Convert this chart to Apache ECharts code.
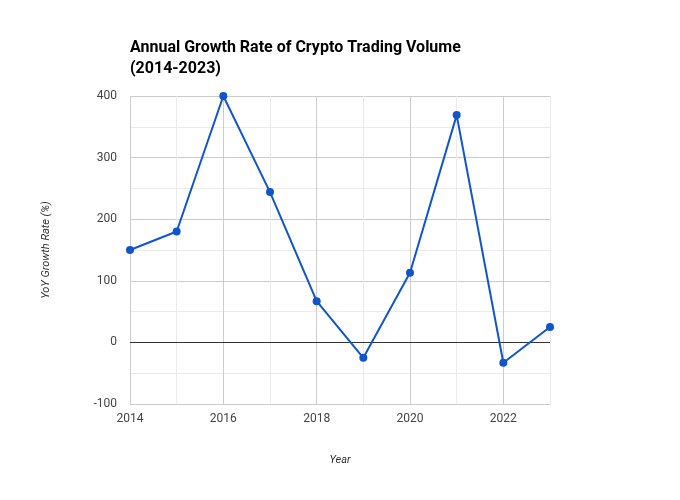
<!DOCTYPE html>
<html>
<head>
<meta charset="utf-8">
<script src="https://cdn.jsdelivr.net/npm/echarts@6/dist/echarts.min.js"></script>
<style>
  html, body { margin: 0; padding: 0; background: #fff; }
  #chart { width: 680px; height: 500px; }
</style>
</head>
<body>
<div id="chart"></div>
<script>
// data
var years = ['2014', '2015', '2016', '2017', '2018', '2019', '2020', '2021', '2022', '2023'];
var growthRate = [150, 180, 400, 244, 67, -25, 113, 369, -33, 25];

var chart = echarts.init(document.getElementById('chart'));

var option = {
  backgroundColor: '#ffffff',
  textStyle: { fontFamily: 'Roboto' },
  title: {
    text: 'Annual Growth Rate of Crypto Trading Volume\n(2014-2023)',
    left: 125,
    top: 32,
    textStyle: {
      fontFamily: 'Roboto',
      fontSize: 16,
      fontWeight: 'bold',
      color: '#000',
      lineHeight: 21
    }
  },
  grid: { left: 130, right: 130, top: 96, bottom: 96 },
  xAxis: {
    type: 'category',
    data: years,
    boundaryGap: false,
    name: 'Year',
    nameLocation: 'middle',
    nameGap: 51,
    nameTextStyle: { fontStyle: 'italic', fontSize: 11, color: '#333' },
    axisLine: { show: false },
    axisTick: { show: false },
    axisLabel: { interval: 1, color: '#444', fontSize: 12, margin: 9 },
    splitLine: {
      show: true,
      interval: 0,
      lineStyle: { color: ['#cccccc', '#ebebeb'], width: 1 }
    }
  },
  yAxis: {
    type: 'value',
    min: -100,
    max: 400,
    interval: 50,
    name: 'YoY Growth Rate (%)',
    nameLocation: 'middle',
    nameGap: 78,
    nameTextStyle: { fontStyle: 'italic', fontSize: 11, color: '#333' },
    axisLine: { show: false },
    axisTick: { show: false },
    axisLabel: {
      color: '#444',
      fontSize: 12,
      margin: 13,
      formatter: function (v) { return v % 100 === 0 ? String(v) : ''; }
    },
    splitLine: {
      show: true,
      lineStyle: { color: ['#cccccc', '#ebebeb'], width: 1 }
    }
  },
  series: [{
    type: 'line',
    data: growthRate,
    color: '#1155cc',
    lineStyle: { width: 2, color: '#1155cc' },
    symbol: 'circle',
    symbolSize: 8,
    itemStyle: { color: '#1155cc' },
    z: 3,
    markLine: {
      silent: true,
      symbol: 'none',
      label: { show: false },
      lineStyle: { color: '#333', width: 1, type: 'solid' },
      data: [{ yAxis: 0 }],
      z: 2
    }
  }]
};

chart.setOption(option);
</script>
</body>
</html>
